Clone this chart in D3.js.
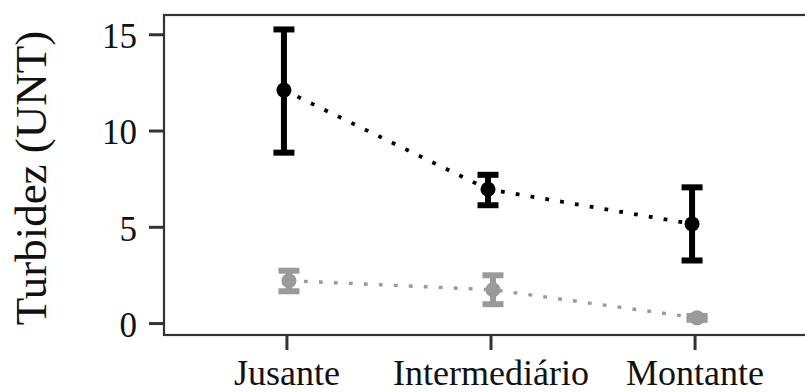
<!DOCTYPE html>
<html>
<head>
<meta charset="utf-8">
<script src="https://cdn.jsdelivr.net/npm/d3@7"></script>
<style>
  body { margin: 0; background: #fff; }
  svg { display: block; }
</style>
</head>
<body>
<svg id="chart" width="805" height="392"></svg>
<script>
// data
const sites = ["Jusante", "Intermediário", "Montante"];
const yTicks = [0, 5, 10, 15];

const darkMean = [12.1, 6.95, 5.15];
const darkLow = [8.85, 6.12, 3.25];
const darkHigh = [15.25, 7.7, 7.05];

const greyMean = [2.2, 1.73, 0.27];
const greyLow = [1.65, 0.98, 0.17];
const greyHigh = [2.72, 2.48, 0.37];

const series = [
  { name: "dark", color: "#000000", dodge: -2.5, dotW: 3.8, mean: darkMean, lo: darkLow, hi: darkHigh },
  { name: "grey", color: "#9a9a9a", dodge: 2.5, dotW: 3.4, mean: greyMean, lo: greyLow, hi: greyHigh }
];

const svg = d3.select("#chart");
const panel = { left: 164, right: 817, top: 15, bottom: 335 };
const serif = "'Liberation Serif', 'Times New Roman', serif";

const x = d3.scalePoint()
  .domain(sites)
  .range([panel.left, panel.right])
  .padding(0.6);

const y = d3.scaleLinear()
  .domain([-0.62, 16.0])
  .range([panel.bottom, panel.top]);

// panel border
svg.append("rect")
  .attr("x", panel.left)
  .attr("y", panel.top)
  .attr("width", panel.right - panel.left)
  .attr("height", panel.bottom - panel.top)
  .attr("fill", "none")
  .attr("stroke", "#333")
  .attr("stroke-width", 2.2);

// y axis
const yAxis = svg.append("g")
  .attr("transform", `translate(${panel.left - 1},0)`)
  .call(d3.axisLeft(y).tickValues(yTicks).tickSize(14).tickPadding(12));
yAxis.select(".domain").remove();
yAxis.selectAll(".tick line").attr("stroke", "#333").attr("stroke-width", 3);
yAxis.selectAll(".tick text")
  .attr("fill", "#111")
  .attr("dy", "0.38em")
  .style("font-family", serif)
  .style("font-size", "35px");

// x axis
const xAxis = svg.append("g")
  .attr("transform", `translate(0,${panel.bottom + 1})`)
  .call(d3.axisBottom(x).tickSize(14).tickPadding(0));
xAxis.select(".domain").remove();
xAxis.selectAll(".tick line").attr("stroke", "#333").attr("stroke-width", 3);
xAxis.selectAll(".tick text")
  .attr("fill", "#111")
  .attr("y", 49)
  .attr("dy", 0)
  .style("font-family", serif)
  .style("font-size", "36px");

// y title
svg.append("text")
  .attr("transform", "translate(46,178) rotate(-90)")
  .attr("text-anchor", "middle")
  .attr("fill", "#111")
  .style("font-family", serif)
  .style("font-size", "45px")
  .text("Turbidez (UNT)");

const capW = 21;

series.forEach((s) => {
  const g = svg.append("g").attr("class", "series-" + s.name);
  const pts = sites.map((site, i) => ({
    site: site,
    cx: x(site) + s.dodge,
    mean: s.mean[i],
    lo: s.lo[i],
    hi: s.hi[i]
  }));

  // dotted connecting line
  g.append("path")
    .datum(pts)
    .attr("fill", "none")
    .attr("stroke", s.color)
    .attr("stroke-width", s.dotW)
    .attr("stroke-dasharray", "3.8 11.2")
    .attr("d", d3.line().x((d) => d.cx).y((d) => y(d.mean)));

  // error bars
  const eb = g.selectAll(".eb").data(pts).enter().append("g").attr("class", "eb");
  eb.append("line")
    .attr("x1", (d) => d.cx).attr("x2", (d) => d.cx)
    .attr("y1", (d) => y(d.lo)).attr("y2", (d) => y(d.hi))
    .attr("stroke", s.color).attr("stroke-width", 6);
  eb.append("line")
    .attr("x1", (d) => d.cx - capW / 2).attr("x2", (d) => d.cx + capW / 2)
    .attr("y1", (d) => y(d.hi)).attr("y2", (d) => y(d.hi))
    .attr("stroke", s.color).attr("stroke-width", 6);
  eb.append("line")
    .attr("x1", (d) => d.cx - capW / 2).attr("x2", (d) => d.cx + capW / 2)
    .attr("y1", (d) => y(d.lo)).attr("y2", (d) => y(d.lo))
    .attr("stroke", s.color).attr("stroke-width", 6);

  // points
  g.selectAll("circle").data(pts).enter().append("circle")
    .attr("cx", (d) => d.cx)
    .attr("cy", (d) => y(d.mean))
    .attr("r", 7.5)
    .attr("fill", s.color);
});
</script>
</body>
</html>
